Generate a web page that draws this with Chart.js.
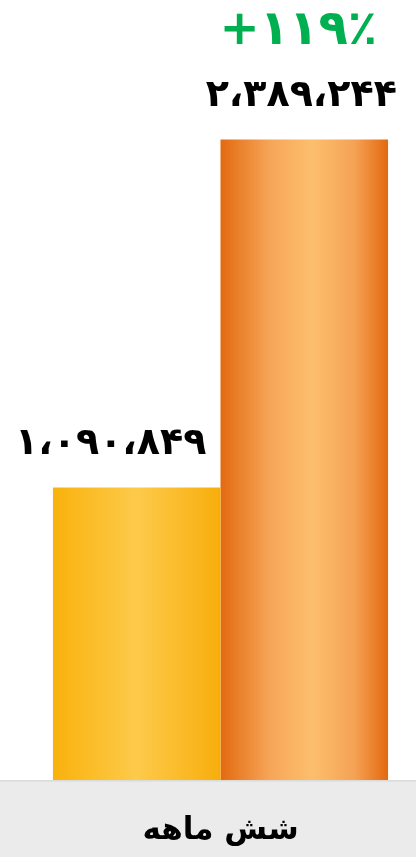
<!DOCTYPE html>
<html>
<head>
<meta charset="utf-8">
<script src="https://cdn.jsdelivr.net/npm/chart.js@4.4.1/dist/chart.umd.min.js"></script>
<style>
  html, body { margin: 0; padding: 0; background: #fff; }
  #wrap { width: 416px; height: 857px; }
</style>
</head>
<body>
<div id="wrap"><canvas id="growthChart"></canvas></div>
<script>
const periodLabels = ["شش ماهه"];
const previousValues = [1090849];
const currentValues = [2389244];
const growthLabels = ["+۱۱۹٪"];

const faDigits = "۰۱۲۳۴۵۶۷۸۹";
function toFa(n) {
  return String(n).replace(/\B(?=(\d{3})+(?!\d))/g, "،").replace(/\d/g, d => faDigits[d]);
}

const CAT_PCT = 0.857;

// horizontal gradient for each bar, built from the x scale
function barGradient(stops) {
  return function (context) {
    const chart = context.chart;
    const x = chart.scales.x;
    if (!chart.chartArea || !x) return stops[stops.length >> 1][1];
    const center = x.getPixelForValue(context.dataIndex);
    const total = (x.width / periodLabels.length) * CAT_PCT;
    const left = center - total / 2 + context.datasetIndex * total / 2;
    const g = chart.ctx.createLinearGradient(left, 0, left + total / 2, 0);
    stops.forEach(s => g.addColorStop(s[0], s[1]));
    return g;
  };
}

const bandPlugin = {
  id: "band",
  beforeDraw(chart) {
    const { ctx, chartArea, width, height } = chart;
    ctx.save();
    ctx.fillStyle = "#ebebeb";
    ctx.fillRect(0, chartArea.bottom, width, height - chartArea.bottom);
    ctx.fillStyle = "#dadada";
    ctx.fillRect(0, chartArea.bottom, width, 1.5);
    ctx.restore();
  }
};

const labelPlugin = {
  id: "valueLabels",
  afterDatasetsDraw(chart) {
    const ctx = chart.ctx;
    const shift = [-26, -3];
    ctx.save();
    ctx.textAlign = "center";
    ctx.textBaseline = "middle";
    ctx.direction = "ltr";
    chart.data.datasets.forEach((ds, i) => {
      chart.getDatasetMeta(i).data.forEach((el, j) => {
        ctx.font = "bold 38px 'DejaVu Sans'";
        ctx.fillStyle = "#000";
        ctx.fillText(toFa(ds.data[j]), el.x + shift[i], el.y - 43);
        if (i === 1) {
          ctx.font = "bold 48px 'DejaVu Sans'";
          ctx.fillStyle = "#00b050";
          ctx.fillText(growthLabels[j], el.x - 6, el.y - 108);
        }
      });
    });
    ctx.restore();
  }
};

new Chart("growthChart", {
  type: "bar",
  data: {
    labels: periodLabels,
    datasets: [{
      data: previousValues,
      backgroundColor: barGradient([[0, "#f9b20c"], [0.5, "#fdca4b"], [1, "#f8ae0c"]])
    }, {
      data: currentValues,
      backgroundColor: barGradient([[0, "#e36a10"], [0.3, "#f7a659"], [0.55, "#fcbf6d"], [0.8, "#f5a255"], [1, "#e3690f"]])
    }]
  },
  options: {
    responsive: true,
    maintainAspectRatio: false,
    animation: false,
    layout: { padding: { left: 25, right: 0, top: 0, bottom: 0 } },
    plugins: { legend: { display: false }, tooltip: { enabled: false } },
    datasets: { bar: { categoryPercentage: CAT_PCT, barPercentage: 1 } },
    scales: {
      x: {
        grid: { display: false },
        border: { display: false },
        ticks: { color: "#000", font: { family: "'DejaVu Sans'", size: 31, weight: "bold" }, padding: 24 },
        afterFit(scale) { scale.height = 77; }
      },
      y: { display: false, min: 0, max: 2910000 }
    }
  },
  plugins: [bandPlugin, labelPlugin]
});
</script>
</body>
</html>
